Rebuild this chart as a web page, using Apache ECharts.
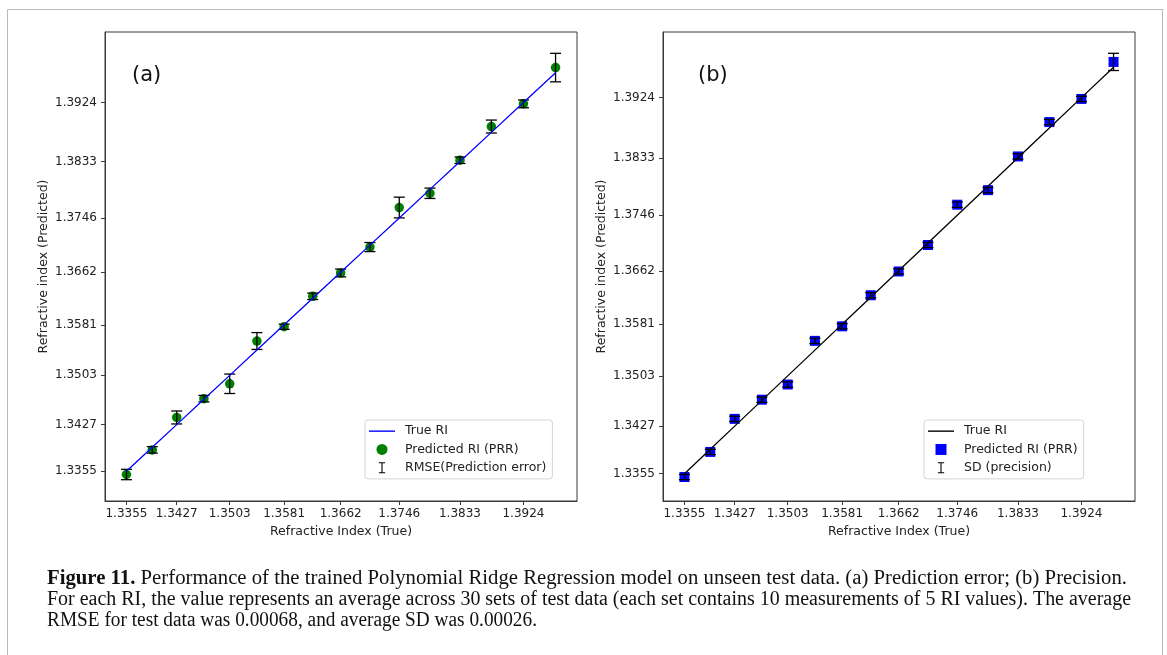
<!DOCTYPE html>
<html>
<head>
<meta charset="utf-8">
<script src="https://cdn.jsdelivr.net/npm/echarts@6/dist/echarts.min.js"></script>
<style>
html,body{margin:0;padding:0;background:#fff;}
#chart{width:1167px;height:655px;}
</style>
</head>
<body>
<div id="chart"></div>
<script>
// ---- data ----
const trueRI    = [1.3355, 1.3392, 1.3427, 1.3466, 1.3503, 1.3542, 1.3581, 1.3622, 1.3662, 1.3704, 1.3746, 1.3790, 1.3833, 1.3878, 1.3924, 1.3970];
const predicted = [1.3350, 1.3388, 1.3438, 1.3467, 1.3490, 1.3556, 1.3578, 1.3625, 1.3661, 1.3701, 1.3762, 1.3784, 1.3835, 1.3887, 1.3922, 1.3978];
const rmse      = [0.0008, 0.0005, 0.0010, 0.0005, 0.0015, 0.0013, 0.0004, 0.0005, 0.0006, 0.0007, 0.0016, 0.0008, 0.0005, 0.0010, 0.0006, 0.0022];
const sd        = [0.0004, 0.0004, 0.0004, 0.0004, 0.0004, 0.0004, 0.0004, 0.0004, 0.0004, 0.0004, 0.0004, 0.0004, 0.0004, 0.0004, 0.0004, 0.0013];
const tickLabels = ['1.3355', '1.3427', '1.3503', '1.3581', '1.3662', '1.3746', '1.3833', '1.3924'];
const panelLabels = ['(a)', '(b)'];
const xAxisName = 'Refractive Index (True)';
const yAxisName = 'Refractive index (Predicted)';
const captionBold = 'Figure 11.';
const captionLines = [
  'Performance of the trained Polynomial Ridge Regression model on unseen test data. (a) Prediction error; (b) Precision.',
  'For each RI, the value represents an average across 30 sets of test data (each set contains 10 measurements of 5 RI values). The average',
  'RMSE for test data was 0.00068, and average SD was 0.00026.'
];

// ---- helpers ----
const tickValues = tickLabels.map(Number);
function padRange(lo, hi) { const m = (hi - lo) * 0.05; return [lo - m, hi + m]; }
const xRange = padRange(Math.min(...trueRI), Math.max(...trueRI));
const yRangeA = padRange(Math.min(...predicted.map((v, i) => v - rmse[i])), Math.max(...predicted.map((v, i) => v + rmse[i])));
const yRangeB = padRange(Math.min(...predicted.map((v, i) => v - sd[i])), Math.max(...predicted.map((v, i) => v + sd[i])));

const FONT = 'DejaVu Sans';
const AX = '#3a3a3a';
const TXT = '#222';

function axis(gridIndex, range, isY) {
  return {
    type: 'value', gridIndex, min: range[0], max: range[1],
    name: isY ? yAxisName : xAxisName,
    nameLocation: 'middle', nameGap: isY ? 55 : 24,
    nameTextStyle: { fontFamily: FONT, fontSize: 12.5, color: TXT },
    axisLine: { show: true, onZero: false, lineStyle: { color: AX, width: 1 } },
    axisTick: { show: true, length: 4, customValues: tickValues, lineStyle: { color: AX, width: 1 } },
    axisLabel: { show: true, customValues: tickValues, margin: isY ? 8 : 7, fontFamily: FONT, fontSize: 12, color: TXT,
                 formatter: v => v.toFixed(4) },
    splitLine: { show: false }
  };
}

function errRender(params, api) {
  const x = api.value(0), y = api.value(1), e = api.value(2);
  const t = api.coord([x, y + e]), b = api.coord([x, y - e]);
  const c = 5.5;
  const st = { stroke: '#000', lineWidth: 1.3 };
  return { type: 'group', children: [
    { type: 'line', shape: { x1: t[0], y1: t[1], x2: b[0], y2: b[1] }, style: st },
    { type: 'line', shape: { x1: t[0] - c, y1: t[1], x2: t[0] + c, y2: t[1] }, style: st },
    { type: 'line', shape: { x1: b[0] - c, y1: b[1], x2: b[0] + c, y2: b[1] }, style: st }
  ]};
}

const ibeamIcon = 'path://M0,0H8V1.4H4.7V12.6H8V14H0V12.6H3.3V1.4H0Z';
const lineIcon = 'path://M0,0H26V1.4H0Z';
const squareIcon = 'path://M0,0H10V10H0Z';
function legend(left, items) {
  return {
    orient: 'vertical', left, top: 420, itemWidth: 26, itemHeight: 11, itemGap: 4,
    padding: [4, 6, 4, 4], borderColor: '#d4d4d4', borderWidth: 1, borderRadius: 3,
    backgroundColor: 'rgba(255,255,255,0.8)', selectedMode: false, symbolKeepAspect: true,
    textStyle: { fontFamily: FONT, fontSize: 12.5, color: TXT, lineHeight: 14.3, padding: [0, 0, 0, 5] },
    data: items
  };
}

// caption: fit each line to the reference's measured widths
const capFont = 'Liberation Serif';
const capSize = 20;
const cv = document.createElement('canvas').getContext('2d');
function mw(t, bold) { cv.font = (bold ? 'bold ' : '') + capSize + 'px "' + capFont + '"'; return cv.measureText(t).width; }
const w1 = mw(captionBold, true) + mw(' ' + captionLines[0], false);
const w2 = mw(captionLines[1], false);
const w3 = mw(captionLines[2], false);
const s1 = 1080 / w1, s2 = 1084 / w2, s3 = 490 / w3;
const capStyle = { font: capSize + 'px "' + capFont + '"', fill: '#111', verticalAlign: 'middle' };

const graphics = [
  { type: 'rect', shape: { x: 7.5, y: 9.5, width: 1155, height: 660 }, style: { fill: 'none', stroke: '#b8b8b8', lineWidth: 1 }, silent: true },
  { type: 'text', x: 47, y: 579, scaleX: s1, style: Object.assign({}, capStyle, {
      text: '{b|' + captionBold + '} ' + captionLines[0],
      rich: { b: { fontWeight: 'bold', fontFamily: capFont, fontSize: capSize, fill: '#111' } } }) },
  { type: 'text', x: 47, y: 600, scaleX: s2, style: Object.assign({}, capStyle, { text: captionLines[1] }) },
  { type: 'text', x: 47, y: 621, scaleX: s3, style: Object.assign({}, capStyle, { text: captionLines[2] }) }
];

const option = {
  animation: false,
  backgroundColor: '#fff',
  title: [
    { text: panelLabels[0], left: 127, top: 60, textStyle: { fontFamily: FONT, fontSize: 21, fontWeight: 'normal', color: '#111' } },
    { text: panelLabels[1], left: 693, top: 60, textStyle: { fontFamily: FONT, fontSize: 21, fontWeight: 'normal', color: '#111' } }
  ],
  grid: [
    { left: 105, top: 32, width: 472, height: 469, show: true, borderColor: AX, borderWidth: 1, backgroundColor: 'transparent' },
    { left: 663, top: 32, width: 472, height: 469, show: true, borderColor: AX, borderWidth: 1, backgroundColor: 'transparent' }
  ],
  xAxis: [axis(0, xRange, false), axis(1, xRange, false)],
  yAxis: [axis(0, yRangeA, true), axis(1, yRangeB, true)],
  legend: [
    legend(365, [
      { name: 'True RI', icon: lineIcon, itemStyle: { color: '#0000ff' } },
      { name: 'Predicted RI (PRR)', icon: 'circle' },
      { name: 'RMSE(Prediction error)', icon: ibeamIcon }
    ]),
    legend(924, [
      { name: 'True RI', icon: lineIcon, itemStyle: { color: '#000' } },
      { name: 'Predicted RI (PRR)', icon: squareIcon, itemStyle: { color: '#0000ff' } },
      { name: 'SD (precision)', icon: ibeamIcon }
    ])
  ],
  series: [
    { name: 'True RI', type: 'line', xAxisIndex: 0, yAxisIndex: 0, data: trueRI.map(v => [v, v]),
      showSymbol: false, symbol: 'none', lineStyle: { color: '#0000ff', width: 1.3 }, itemStyle: { color: '#0000ff' } },
    { name: 'Predicted RI (PRR)', type: 'scatter', xAxisIndex: 0, yAxisIndex: 0, data: trueRI.map((v, i) => [v, predicted[i]]),
      symbol: 'circle', symbolSize: 9.5, itemStyle: { color: '#008000', opacity: 1 } },
    { name: 'RMSE(Prediction error)', type: 'custom', xAxisIndex: 0, yAxisIndex: 0, renderItem: errRender,
      data: trueRI.map((v, i) => [v, predicted[i], rmse[i]]), itemStyle: { color: '#000' }, z: 3 },
    { name: 'True RI', type: 'line', xAxisIndex: 1, yAxisIndex: 1, data: trueRI.map(v => [v, v]),
      showSymbol: false, symbol: 'none', lineStyle: { color: '#000', width: 1.3 }, itemStyle: { color: '#000' } },
    { name: 'Predicted RI (PRR)', type: 'scatter', xAxisIndex: 1, yAxisIndex: 1, data: trueRI.map((v, i) => [v, predicted[i]]),
      symbol: 'rect', symbolSize: 10, itemStyle: { color: '#0000ff', opacity: 1 } },
    { name: 'SD (precision)', type: 'custom', xAxisIndex: 1, yAxisIndex: 1, renderItem: errRender,
      data: trueRI.map((v, i) => [v, predicted[i], sd[i]]), itemStyle: { color: '#000' }, z: 3 }
  ],
  graphic: graphics
};

const chart = echarts.init(document.getElementById('chart'), null, { renderer: 'canvas' });
chart.setOption(option);
</script>
</body>
</html>
